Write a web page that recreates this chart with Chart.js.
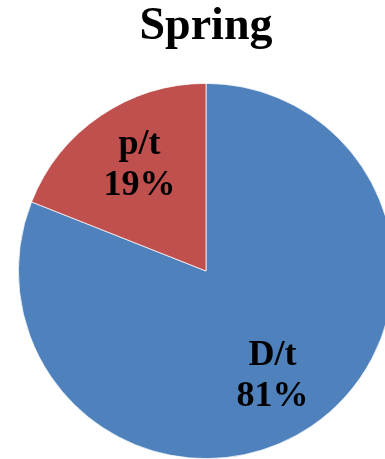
<!DOCTYPE html>
<html>
<head>
<meta charset="utf-8">
<script src="https://cdn.jsdelivr.net/npm/chart.js@4/dist/chart.umd.min.js"></script>
<style>
html,body{margin:0;padding:0;overflow:hidden;background:#fff;}
#wrap{position:relative;width:412px;height:459px;}
</style>
</head>
<body>
<div id="wrap"><canvas id="c"></canvas></div>
<script>
const chartTitle = "Spring";
const categories = ["D/t", "p/t"];
const values = [81, 19];
const colors = ["#4F81BD", "#C0504D"];

const labelPlugin = {
  id: 'sliceLabels',
  afterDatasetsDraw(chart) {
    const ctx = chart.ctx;
    const meta = chart.getDatasetMeta(0);
    const total = values.reduce((a, b) => a + b, 0);
    ctx.save();
    ctx.font = 'bold 36px "Liberation Serif", "Times New Roman", serif';
    ctx.fillStyle = '#000';
    ctx.textAlign = 'center';
    ctx.textBaseline = 'middle';
    meta.data.forEach((arc, i) => {
      const p = arc.getProps(['x', 'y', 'startAngle', 'endAngle', 'outerRadius'], true);
      const mid = (p.startAngle + p.endAngle) / 2 + 0.035;
      const r = p.outerRadius * 0.665;
      const cx = p.x + Math.cos(mid) * r;
      const cy = p.y + Math.sin(mid) * r;
      const pct = Math.round(values[i] / total * 100) + '%';
      ctx.fillText(categories[i], cx, cy - 20.5);
      ctx.fillText(pct, cx, cy + 20.5);
    });
    ctx.restore();
  }
};

new Chart(document.getElementById('c'), {
  type: 'pie',
  data: {
    labels: categories,
    datasets: [{
      data: values,
      backgroundColor: colors,
      borderColor: '#ffffff',
      borderWidth: 0.75,
      hoverOffset: 0
    }]
  },
  options: {
    responsive: true,
    maintainAspectRatio: false,
    animation: false,
    layout: { padding: 0 },
    plugins: {
      legend: { display: false },
      tooltip: { enabled: false },
      title: {
        display: true,
        text: chartTitle,
        color: '#000',
        font: { family: '"Liberation Serif", "Times New Roman", serif', size: 46, weight: 'bold', lineHeight: 1.0 },
        padding: { top: 4, bottom: 33 }
      }
    }
  },
  plugins: [labelPlugin]
});
</script>
</body>
</html>
